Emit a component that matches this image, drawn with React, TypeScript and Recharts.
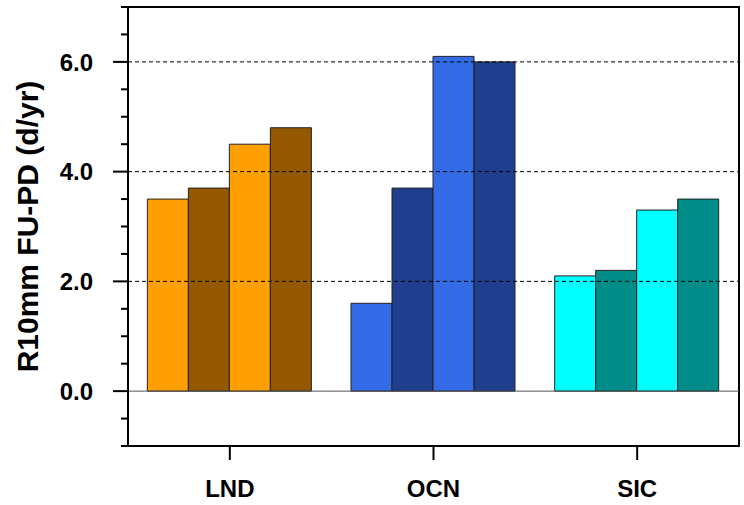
import React from "react";
import * as Recharts from "recharts";
import { BarChart, Bar, XAxis, YAxis, Cell, ReferenceLine } from "recharts";

const categories = ["LND", "OCN", "SIC"];
const series1 = [3.5, 1.6, 2.1];
const series2 = [3.7, 3.7, 2.2];
const series3 = [4.5, 6.1, 3.3];
const series4 = [4.8, 6.0, 3.5];
const lightColors = ["#FFA000", "#336BE6", "#00FFFF"];
const darkColors = ["#935800", "#1F3F8E", "#008C88"];
const yTicks = [-1, -0.5, 0, 0.5, 1, 1.5, 2, 2.5, 3, 3.5, 4, 4.5, 5, 5.5, 6, 6.5, 7];
const majorTicks = [0, 2, 4, 6];
const gridValues = [2, 4, 6];
const yLabel = "R10mm FU-PD (d/yr)";

const data = categories.map((c, i) => ({
  name: c,
  s1: series1[i],
  s2: series2[i],
  s3: series3[i],
  s4: series4[i],
}));

const FONT = "'Liberation Sans', Arial, sans-serif";
const TOP = 7;
const usePlotAreaHook: any = (Recharts as any).usePlotArea;

const YTick = (props: any) => {
  const { x, y, payload } = props;
  const v = payload.value;
  const major = majorTicks.includes(v);
  return (
    <g>
      <line x1={x - (major ? 15 : 7)} x2={x} y1={y} y2={y} stroke="#000" strokeWidth={2} />
      {major && (
        <text
          x={x - 35}
          y={y}
          dy="0.36em"
          textAnchor="end"
          fontFamily={FONT}
          fontWeight="bold"
          fontSize={24}
          fill="#000"
        >
          {v.toFixed(1)}
        </text>
      )}
    </g>
  );
};

const XTick = (props: any) => {
  const { x, y, payload } = props;
  return (
    <text
      x={x}
      y={y}
      dy={17}
      textAnchor="middle"
      fontFamily={FONT}
      fontWeight="bold"
      fontSize={24}
      fill="#000"
    >
      {payload.value}
    </text>
  );
};

const YLabel = (props: any) => {
  const vb = props.viewBox || { x: 0, y: 7, width: 128, height: 439 };
  const cx = 27;
  const cy = vb.y + vb.height / 2;
  return (
    <text
      x={cx}
      y={cy}
      transform={`rotate(-90, ${cx}, ${cy})`}
      textAnchor="middle"
      dominantBaseline="central"
      fontFamily={FONT}
      fontWeight="bold"
      fontSize={30}
      fill="#000"
    >
      {yLabel}
    </text>
  );
};

// Plot frame drawn from the chart's own plot area.
const Frame = () => {
  const area = usePlotAreaHook ? usePlotAreaHook() : null;
  if (!area) return null;
  return (
    <rect
      x={area.x}
      y={area.y}
      width={area.width}
      height={area.height}
      fill="none"
      stroke="#000"
      strokeWidth={2}
    />
  );
};

const stroke = "#222";
const frame = { stroke: "#000", strokeWidth: 2 };

export default function App() {
  return (
    <div style={{ position: "absolute", left: 0, top: 0, background: "#fff" }}>
      <BarChart
        width={744}
        height={505}
        data={data}
        margin={{ top: TOP, right: 5, bottom: 0, left: 0 }}
        barCategoryGap="9.5%"
        barGap={0}
      >
        <XAxis
          dataKey="name"
          height={59}
          axisLine={frame}
          tickLine={frame}
          tickSize={14}
          tickMargin={20}
          tick={<XTick />}
        />
        <YAxis
          width={128}
          domain={[-1, 7]}
          ticks={yTicks}
          interval={0}
          allowDataOverflow
          axisLine={frame}
          tickLine={false}
          tickSize={0}
          tickMargin={0}
          tick={<YTick />}
          label={<YLabel />}
        />
        <Bar dataKey="s1" isAnimationActive={false} stroke={stroke} strokeWidth={1}>
          {data.map((d, i) => (
            <Cell key={i} fill={lightColors[i]} />
          ))}
        </Bar>
        <Bar dataKey="s2" isAnimationActive={false} stroke={stroke} strokeWidth={1}>
          {data.map((d, i) => (
            <Cell key={i} fill={darkColors[i]} />
          ))}
        </Bar>
        <Bar dataKey="s3" isAnimationActive={false} stroke={stroke} strokeWidth={1}>
          {data.map((d, i) => (
            <Cell key={i} fill={lightColors[i]} />
          ))}
        </Bar>
        <Bar dataKey="s4" isAnimationActive={false} stroke={stroke} strokeWidth={1}>
          {data.map((d, i) => (
            <Cell key={i} fill={darkColors[i]} />
          ))}
        </Bar>
        <ReferenceLine y={0} stroke="#555" strokeWidth={1} />
        {gridValues.map((v) => (
          <ReferenceLine key={v} y={v} stroke="#000" strokeWidth={1} strokeDasharray="4 3" />
        ))}
        <Frame />
      </BarChart>
    </div>
  );
}
